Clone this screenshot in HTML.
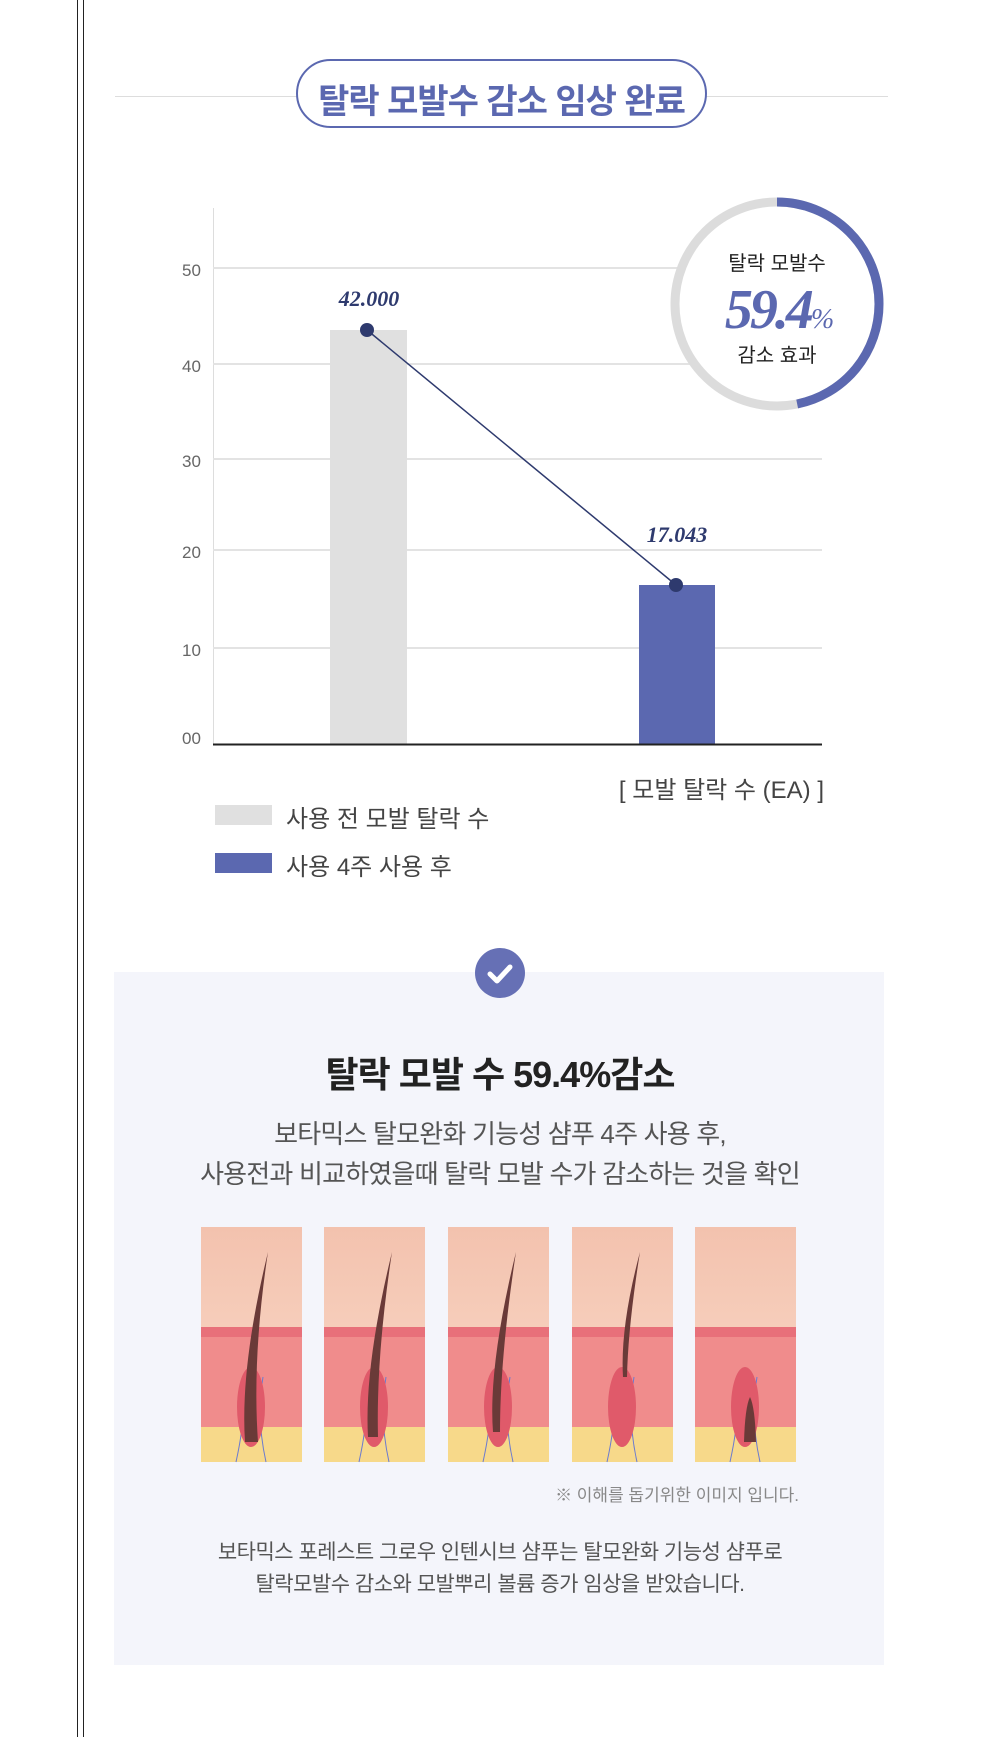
<!DOCTYPE html>
<html><head><meta charset="utf-8"><style>
body{margin:0;width:1000px;height:1737px;background:#fff;position:relative;overflow:hidden;font-family:"Liberation Sans","Noto Sans CJK KR",sans-serif}
.a{position:absolute}
.t{position:absolute;white-space:nowrap}
</style></head><body>
<div class="a" style="left:77px;top:0;width:1px;height:1737px;background:#222"></div>
<div class="a" style="left:83px;top:0;width:1px;height:1737px;background:#222"></div>
<div class="a" style="left:115px;top:96px;width:773px;height:1px;background:#ddd"></div>
<div class="a" style="left:296px;top:59px;width:411px;height:69px;border:2px solid #5b68b0;border-radius:35px;background:#fff;box-sizing:border-box"></div>
<div class="t" style="left:296px;width:411px;text-align:center;top:74px;font-size:34px;font-weight:bold;color:#5b68b0;letter-spacing:-1px">탈락 모발수 감소 임상 완료</div>

<svg class="a" style="left:0;top:0" width="1000" height="900">
<line x1="213.5" y1="208" x2="213.5" y2="744" stroke="#ddd"/>
<g stroke="#e3e3e3" stroke-width="2">
<line x1="213" y1="268" x2="822" y2="268"/><line x1="213" y1="364" x2="822" y2="364"/>
<line x1="213" y1="459" x2="822" y2="459"/><line x1="213" y1="550" x2="822" y2="550"/>
<line x1="213" y1="648" x2="822" y2="648"/></g>
<rect x="330" y="330" width="77" height="414" fill="#e0e0e0"/>
<rect x="639" y="585" width="76" height="159" fill="#5b68b0"/>
<line x1="213" y1="744.5" x2="822" y2="744.5" stroke="#222" stroke-width="2"/>
<g font-size="17" fill="#666" font-family="Liberation Sans,sans-serif">
<text x="182" y="276">50</text><text x="182" y="372">40</text><text x="182" y="467">30</text><text x="182" y="558">20</text><text x="182" y="656">10</text><text x="182" y="744">00</text></g>
<line x1="367" y1="330" x2="676" y2="585" stroke="#2e3a6e" stroke-width="1.5"/>
<circle cx="367" cy="330" r="7" fill="#2e3a6e"/><circle cx="676" cy="585" r="7" fill="#2e3a6e"/>
<g font-family="Liberation Serif,serif" font-style="italic" font-weight="bold" font-size="22" fill="#2e3a6e" text-anchor="middle">
<text x="369" y="306">42.000</text><text x="677" y="542">17.043</text></g>
<circle cx="777" cy="304" r="102" fill="#fff" stroke="#dcdcdc" stroke-width="9"/>
<circle cx="777" cy="304" r="102" fill="none" stroke="#5b68b0" stroke-width="9" stroke-dasharray="300 1000" transform="rotate(-90 777 304)"/>
<text x="777" y="270" text-anchor="middle" font-size="20" fill="#222">탈락 모발수</text>
<text x="778" y="328" text-anchor="middle" font-family="Liberation Serif,serif" font-style="italic" font-weight="bold" font-size="56" fill="#5b68b0" letter-spacing="-3">59.4<tspan font-size="28" font-weight="normal">%</tspan></text>
<text x="777" y="362" text-anchor="middle" font-size="20" fill="#222">감소 효과</text>
</svg>
<div class="t" style="right:176px;top:770px;font-size:24px;color:#444">[ 모발 탈락 수 (EA) ]</div>
<div class="a" style="left:215px;top:805px;width:57px;height:20px;background:#e0e0e0"></div>
<div class="t" style="left:286px;top:799px;font-size:24px;color:#444">사용 전 모발 탈락 수</div>
<div class="a" style="left:215px;top:853px;width:57px;height:20px;background:#5b68b0"></div>
<div class="t" style="left:286px;top:847px;font-size:24px;color:#444">사용 4주 사용 후</div>

<div class="a" style="left:114px;top:972px;width:770px;height:693px;background:#f4f5fb"></div>
<div class="a" style="left:475px;top:948px;width:50px;height:50px;border-radius:50%;background:#6670b5"></div>
<svg class="a" style="left:475px;top:948px" width="50" height="50"><path d="M15 26 L22 33 L35 19" stroke="#fff" stroke-width="5" fill="none" stroke-linecap="round" stroke-linejoin="round"/></svg>
<div class="t" style="left:0;width:1000px;text-align:center;top:1046px;font-size:36px;font-weight:bold;color:#222;letter-spacing:-1px">탈락 모발 수 59.4%감소</div>
<div class="t" style="left:0;width:1000px;text-align:center;top:1114px;font-size:26px;color:#555;line-height:40px;letter-spacing:-0.8px">보타믹스 탈모완화 기능성 샴푸 4주 사용 후,<br>사용전과 비교하였을때 탈락 모발 수가 감소하는 것을 확인</div>

<svg class="a" style="left:0;top:1227px" width="1000" height="236">
<defs>
<linearGradient id="sk" x1="0" y1="0" x2="0" y2="1"><stop offset="0" stop-color="#f3c2ae"/><stop offset="1" stop-color="#fadccb"/></linearGradient>
<g id="p">
<rect width="101" height="235" fill="url(#sk)"/>
<rect y="100" width="101" height="135" fill="#f08c8c"/>
<rect y="100" width="101" height="10" fill="#e8707a"/>
<rect y="200" width="101" height="35" fill="#f7d98a"/>
<path d="M35 235 Q45 190 42 160 M65 235 Q55 190 62 150" stroke="#6a7ad0" fill="none"/>
<ellipse cx="50" cy="180" rx="14" ry="40" fill="#e05a6a"/>
</g></defs>
<use href="#p" x="201"/><use href="#p" x="324"/><use href="#p" x="448"/><use href="#p" x="572"/><use href="#p" x="695"/>
<path d="M245 215 Q240 140 268 25 Q252 130 258 215Z" fill="#6a3a38"/>
<path d="M368 210 Q364 140 392 25 Q376 130 378 210Z" fill="#6a3a38"/>
<path d="M493 205 Q488 140 516 25 Q500 130 500 205Z" fill="#6a3a38"/>
<path d="M623 150 Q620 100 640 25 Q628 100 627 150Z" fill="#6a3a38"/>
<path d="M744 215 Q745 180 750 170 Q755 180 756 215Z" fill="#6a3a38"/>
</svg>
<div class="t" style="right:201px;top:1481px;font-size:17px;color:#888">※ 이해를 돕기위한 이미지 입니다.</div>
<div class="t" style="left:0;width:1000px;text-align:center;top:1537px;font-size:21px;color:#555;line-height:32px;letter-spacing:-0.5px">보타믹스 포레스트 그로우 인텐시브 샴푸는 탈모완화 기능성 샴푸로<br>탈락모발수 감소와 모발뿌리 볼륨 증가 임상을 받았습니다.</div>
</body></html>
